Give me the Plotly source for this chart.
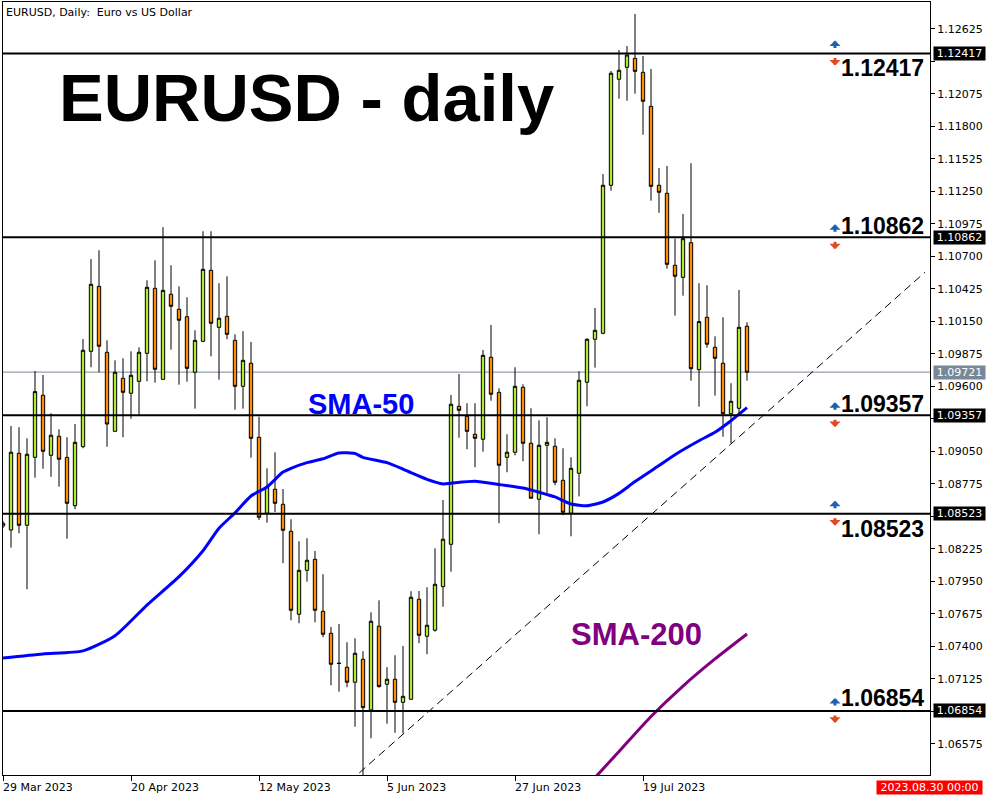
import plotly.graph_objects as go

# ---------------- data ----------------
bars = list(range(94))  # daily bars, bar 0 = 29 Mar 2023

opens = [1.08419, 1.08385, 1.09034, 1.08425, 1.09000, 1.09525, 1.09017, 1.09178, 1.09000, 1.08591,
         1.09090, 1.09897, 1.10447, 1.09889, 1.09220, 1.09669, 1.09542, 1.09643, 1.09880, 1.10430,
         1.09660, 1.10380, 1.10253, 1.10190, 1.09720, 1.09982, 1.10583, 1.10100, 1.10193, 1.09990,
         1.09601, 1.09796, 1.09170, 1.08527, 1.08730, 1.08603, 1.08374, 1.07672, 1.08044, 1.08137,
         1.07697, 1.07511, 1.07258, 1.07224, 1.07097, 1.07291, 1.06862, 1.07571, 1.07080, 1.07122,
         1.06927, 1.06953, 1.07799, 1.07486, 1.07537, 1.07906, 1.08264, 1.09432, 1.09347, 1.09195,
         1.09153, 1.09847, 1.09550, 1.09000, 1.09043, 1.09593, 1.09119, 1.08645, 1.09102, 1.09094,
         1.08806, 1.08527, 1.08865, 1.09635, 1.09999, 1.10050, 1.11302, 1.12199, 1.12300, 1.12376,
         1.12258, 1.11970, 1.11302, 1.11234, 1.10625, 1.10523, 1.10816, 1.09742, 1.10185, 1.09931,
         1.09796, 1.09369, 1.09415, 1.10109]
highs = [1.08462, 1.09265, 1.09254, 1.09161, 1.09731, 1.09697, 1.09373, 1.09237, 1.09170, 1.09282,
         1.10001, 1.10678, 1.10752, 1.09990, 1.09821, 1.09838, 1.09897, 1.09931, 1.10498, 1.10667,
         1.10947, 1.10625, 1.10447, 1.10354, 1.10075, 1.10913, 1.10913, 1.10473, 1.10532, 1.10041,
         1.10067, 1.09976, 1.09344, 1.08907, 1.09043, 1.08732, 1.08476, 1.08290, 1.08315, 1.08208,
         1.08011, 1.07565, 1.07590, 1.07435, 1.07469, 1.07359, 1.07689, 1.07790, 1.07224, 1.07325,
         1.07404, 1.07867, 1.07869, 1.07900, 1.08230, 1.08639, 1.09528, 1.09705, 1.09457, 1.09457,
         1.09908, 1.10120, 1.09584, 1.09195, 1.09762, 1.09618, 1.09415, 1.09313, 1.09339, 1.09161,
         1.09077, 1.09000, 1.09728, 1.10007, 1.10264, 1.11397, 1.12269, 1.12447, 1.12480, 1.12751,
         1.12396, 1.12286, 1.11448, 1.11465, 1.10850, 1.11059, 1.11488, 1.10473, 1.10456, 1.10024,
         1.10185, 1.09627, 1.10416, 1.10143]
lows = [1.08402, 1.08236, 1.08357, 1.07884, 1.08828, 1.08904, 1.08836, 1.08752, 1.08312, 1.08561,
        1.09077, 1.09762, 1.09720, 1.09090, 1.09220, 1.09170, 1.09327, 1.09364, 1.09643, 1.09632,
        1.09660, 1.09911, 1.09615, 1.09640, 1.09412, 1.09974, 1.09855, 1.09657, 1.09999, 1.09403,
        1.09412, 1.08997, 1.08470, 1.08447, 1.08538, 1.08104, 1.07621, 1.07596, 1.07948, 1.07604,
        1.07478, 1.07071, 1.07017, 1.07055, 1.06721, 1.06310, 1.06623, 1.07051, 1.06746, 1.06670,
        1.06665, 1.06953, 1.07427, 1.07334, 1.07525, 1.07736, 1.08032, 1.09166, 1.09068, 1.08916,
        1.09048, 1.09479, 1.08442, 1.08874, 1.09017, 1.08967, 1.08654, 1.08349, 1.08696, 1.08764,
        1.08510, 1.08332, 1.08670, 1.09432, 1.09759, 1.10041, 1.11256, 1.12035, 1.12018, 1.12077,
        1.11730, 1.11172, 1.11070, 1.10596, 1.10199, 1.10368, 1.09649, 1.09429, 1.09928, 1.09522,
        1.09175, 1.09119, 1.09375, 1.09649]
closes = [1.08442, 1.09043, 1.08425, 1.09026, 1.09556, 1.09051, 1.09187, 1.08984, 1.08611, 1.09127,
          1.09906, 1.10464, 1.09940, 1.09282, 1.09720, 1.09550, 1.09694, 1.09889, 1.10439, 1.09745,
          1.10413, 1.10278, 1.10160, 1.09753, 1.09990, 1.10591, 1.10134, 1.10177, 1.10041, 1.09601,
          1.09821, 1.09161, 1.08493, 1.08752, 1.08611, 1.08383, 1.07706, 1.08044, 1.08129, 1.07706,
          1.07503, 1.07249, 1.07256, 1.07097, 1.07342, 1.06882, 1.07613, 1.07060, 1.07122, 1.06927,
          1.06978, 1.07816, 1.07494, 1.07579, 1.07926, 1.08307, 1.09449, 1.09398, 1.09220, 1.09161,
          1.09863, 1.09534, 1.08933, 1.09043, 1.09601, 1.09119, 1.08654, 1.09102, 1.09127, 1.08789,
          1.08535, 1.08907, 1.09652, 1.09999, 1.10075, 1.11302, 1.12250, 1.12275, 1.12404, 1.12266,
          1.12013, 1.11293, 1.11243, 1.10633, 1.10532, 1.10850, 1.09750, 1.10149, 1.09957, 1.09838,
          1.09369, 1.09474, 1.10100, 1.09720]

date_tick_bars = [0, 16, 32, 48, 64, 80]
date_tick_labels = ["29 Mar 2023", "20 Apr 2023", "12 May 2023", "5 Jun 2023", "27 Jun 2023", "19 Jul 2023"]

price_ticks = [1.06575, 1.06850, 1.07125, 1.07400, 1.07675, 1.07950, 1.08225, 1.08500, 1.08775,
               1.09050, 1.09325, 1.09600, 1.09875, 1.10150, 1.10425, 1.10700, 1.10975, 1.11250,
               1.11525, 1.11800, 1.12075, 1.12350, 1.12625]
# tick labels that sit under a level box on the price scale are left blank
hidden_ticks = [1.06850, 1.08500, 1.09325, 1.12350]

sma50_bars = [0, 5, 10, 14, 18, 22, 25, 27, 29, 31, 33, 35, 36, 38, 40, 42, 44, 45, 48, 50,
              51, 53, 55, 56, 59, 62, 65, 67, 69, 71, 73, 75, 77, 79, 82, 84, 87, 89, 91, 93]
sma50_vals = [1.07302, 1.07336, 1.07362, 1.07490, 1.07750, 1.07990, 1.08210, 1.08400, 1.08530, 1.08673,
              1.08749, 1.08875, 1.08907, 1.08955, 1.08988, 1.09037, 1.09032, 1.09000, 1.08955, 1.08900,
              1.08870, 1.08814, 1.08775, 1.08781, 1.08797, 1.08770, 1.08740, 1.08705, 1.08665, 1.08605,
              1.08590, 1.08622, 1.08695, 1.08795, 1.08930, 1.09022, 1.09140, 1.09212, 1.09310, 1.09420]

sma200_bars = [72, 74, 77, 81, 85, 89, 93]
sma200_vals = [1.06143, 1.06290, 1.06511, 1.06807, 1.07065, 1.07294, 1.07505]

trend_bars = [44.54, 115.25]
trend_vals = [1.06330, 1.10566]

levels = [1.12417, 1.10862, 1.09357, 1.08523, 1.06854]
level_label_shift = [-14, 11, 11, -15, 13]   # px offset of the bold value text
current_price = 1.09721
marker_time = "2023.08.30 00:00"

# ---------------- style ----------------
GREEN = "#adeb33"
ORANGE = "#ff8c00"
SMA50_COLOR = "#0000ff"
SMA200_COLOR = "#800080"
UP_COLOR = "#1d62b0"
DOWN_COLOR = "#e4481e"
AXIS_FONT = dict(family="DejaVu Sans", size=11, color="black")

W, H = 1000, 800
ML, MR, MT, MB = 3, 70, 2, 25
PW, PH = W - ML - MR, H - MT - MB


def px_x(px):
    return (px - ML) / PW


def px_y(py):
    return (H - MB - py) / PH


fig = go.Figure()

fig.add_trace(go.Candlestick(
    x=bars, open=opens, high=highs, low=lows, close=closes,
    increasing=dict(fillcolor=GREEN, line=dict(color="black", width=1)),
    decreasing=dict(fillcolor=ORANGE, line=dict(color="black", width=1)),
    whiskerwidth=0, showlegend=False, hoverinfo="skip",
))

fig.add_trace(go.Scatter(x=sma50_bars, y=sma50_vals, mode="lines",
                         line=dict(color=SMA50_COLOR, width=3, shape="spline", smoothing=0.6),
                         showlegend=False, hoverinfo="skip"))
fig.add_trace(go.Scatter(x=sma200_bars, y=sma200_vals, mode="lines",
                         line=dict(color=SMA200_COLOR, width=3, shape="spline", smoothing=0.6),
                         showlegend=False, hoverinfo="skip"))

shapes = []
shapes.append(dict(type="line", xref="paper", yref="y", x0=0, x1=1, y0=current_price, y1=current_price,
                   line=dict(color="#778899", width=1), layer="below"))
for lv in levels:
    shapes.append(dict(type="line", xref="paper", yref="y", x0=0, x1=1, y0=lv, y1=lv,
                       line=dict(color="black", width=2)))
shapes.append(dict(type="line", xref="x", yref="y", x0=trend_bars[0], x1=trend_bars[1],
                   y0=trend_vals[0], y1=trend_vals[1],
                   line=dict(color="black", width=1, dash="8px,5px")))

ann = []
ann.append(dict(text="EURUSD, Daily:\u00a0 Euro vs US Dollar", xref="paper", yref="paper",
                x=0, y=1, xanchor="left", yanchor="middle", xshift=1, yshift=-10,
                showarrow=False, font=AXIS_FONT))
ann.append(dict(text="<b>EURUSD - daily</b>", xref="paper", yref="paper", x=px_x(306), y=px_y(98),
                xanchor="center", yanchor="middle", showarrow=False,
                font=dict(family="Liberation Sans, Arial", size=67, color="black")))
ann.append(dict(text="<b>SMA-50</b>", xref="paper", yref="paper", x=px_x(361), y=px_y(404),
                xanchor="center", yanchor="middle", showarrow=False,
                font=dict(family="Liberation Sans, Arial", size=29, color=SMA50_COLOR)))
ann.append(dict(text="<b>SMA-200</b>", xref="paper", yref="paper", x=px_x(636), y=px_y(634),
                xanchor="center", yanchor="middle", showarrow=False,
                font=dict(family="Liberation Sans, Arial", size=31, color=SMA200_COLOR)))

for lv, sh in zip(levels, level_label_shift):
    ann.append(dict(text=f"<b>{lv:.5f}</b>", xref="paper", yref="y", x=px_x(926), y=lv,
                    xanchor="right", yanchor="middle", yshift=sh, showarrow=False,
                    font=dict(family="Liberation Sans, Arial", size=23, color="black")))
    # alert arrows
    ann.append(dict(text="", xref="x", yref="y", x=104, y=lv, yshift=13, ax=0, ay=9,
                    showarrow=True, arrowhead=1, arrowsize=0.62, arrowwidth=3, arrowcolor=UP_COLOR))
    ann.append(dict(text="", xref="x", yref="y", x=104, y=lv, yshift=-12, ax=0, ay=-9,
                    showarrow=True, arrowhead=1, arrowsize=0.62, arrowwidth=3, arrowcolor=DOWN_COLOR))
    # price scale boxes
    ann.append(dict(text=f"{lv:.5f}", xref="paper", yref="y", x=1, y=lv, xanchor="left",
                    yanchor="middle", xshift=3, showarrow=False, bgcolor="black", borderpad=1,
                    width=49, height=11, font=dict(family="DejaVu Sans", size=11, color="white")))

ann.append(dict(text=f"{current_price:.5f}", xref="paper", yref="y", x=1, y=current_price, xanchor="left",
                yanchor="middle", xshift=3, showarrow=False, bgcolor="#778899", borderpad=1,
                width=49, height=11, font=dict(family="DejaVu Sans", size=11, color="white")))

for b, lab in zip(date_tick_bars, date_tick_labels):
    ann.append(dict(text=lab, xref="x", yref="paper", x=b, y=0, xanchor="left", yanchor="top",
                    xshift=-2, yshift=-4, showarrow=False, font=AXIS_FONT))

ann.append(dict(text=marker_time, xref="paper", yref="paper", x=px_x(929.5), y=0,
                xanchor="center", yanchor="top", yshift=-5, showarrow=False, bgcolor="#ff0000",
                borderpad=1, width=103, height=11,
                font=dict(family="DejaVu Sans", size=11, color="white")))

fig.update_layout(
    width=W, height=H,
    margin=dict(l=ML, r=MR, t=MT, b=MB),
    paper_bgcolor="white", plot_bgcolor="white",
    boxgap=0.4,
    showlegend=False,
    shapes=shapes, annotations=ann,
    xaxis=dict(range=[0, PW / 8], showgrid=False, zeroline=False, showline=True, linecolor="black",
               linewidth=1, mirror=True, ticks="outside", ticklen=5, tickcolor="black",
               tickvals=date_tick_bars, showticklabels=False, rangeslider=dict(visible=False),
               fixedrange=True),
    yaxis=dict(range=[1.06312, 1.128528], side="right", showgrid=False, zeroline=False, showline=True,
               linecolor="black", linewidth=1, mirror=True, ticks="outside", ticklen=4,
               tickcolor="black", tickvals=price_ticks,
               ticktext=["" if v in hidden_ticks else f"{v:.5f}" for v in price_ticks],
               tickfont=AXIS_FONT, fixedrange=True),
)

# remove the browser's default 8px body margin so the 1000x800 figure fills the window
fig.write_html("out.html", config={"displayModeBar": False},
               post_script="document.body.style.margin='0px';")
